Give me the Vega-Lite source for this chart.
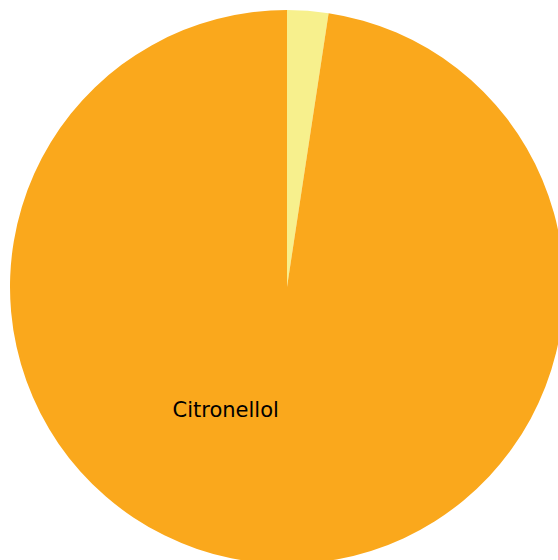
{
  "$schema": "https://vega.github.io/schema/vega-lite/v6.json",
  "width": 574,
  "height": 574,
  "padding": 0,
  "autosize": {"type": "none"},
  "background": "white",
  "data": {
    "values": [
      {"compound": "Other", "share": 2.4, "label": ""},
      {"compound": "Citronellol", "share": 97.6, "label": "Citronellol"}
    ]
  },
  "encoding": {
    "theta": {"field": "share", "type": "quantitative", "stack": true},
    "order": {"field": "share", "type": "quantitative", "sort": "ascending"}
  },
  "layer": [
    {
      "mark": {"type": "arc", "outerRadius": 277},
      "encoding": {
        "color": {
          "field": "compound",
          "type": "nominal",
          "scale": {"domain": ["Other", "Citronellol"], "range": ["#f7f08d", "#faa81c"]},
          "legend": null
        }
      }
    },
    {
      "mark": {"type": "text", "radius": 124, "dx": -52, "font": "DejaVu Sans", "fontSize": 21, "color": "black", "align": "center", "baseline": "middle"},
      "encoding": {"text": {"field": "label"}}
    }
  ],
  "config": {"view": {"stroke": null}}
}
